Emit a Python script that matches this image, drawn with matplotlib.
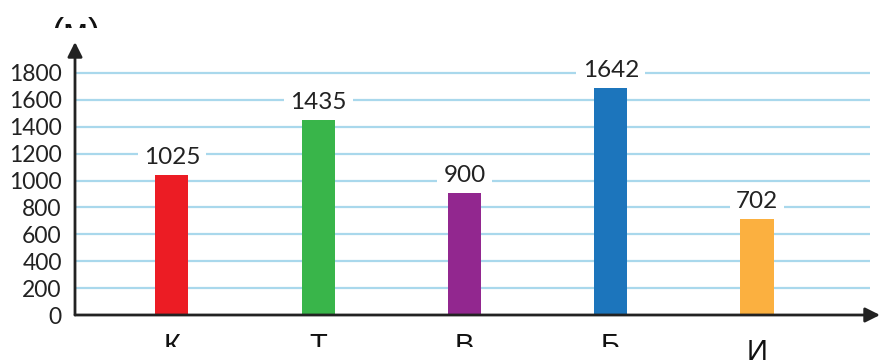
import matplotlib
matplotlib.use("Agg")
import matplotlib.pyplot as plt
from matplotlib.transforms import Bbox, IdentityTransform

categories = ["К", "Т", "В", "Б", "И"]
value_labels = [1025, 1435, 900, 1642, 702]
# bar heights as drawn in the picture (slightly taller than the printed values)
bar_heights = [1042, 1451, 910, 1691, 714]
colors = ["#ec1c24", "#39b54a", "#92278f", "#1c75bc", "#fbb040"]
y_ticks = [0, 200, 400, 600, 800, 1000, 1200, 1400, 1600, 1800]

W, H = 880, 360
fig = plt.figure(figsize=(W / 100, H / 100), dpi=100)
fig.patch.set_facecolor("white")

# axes box in pixels: y-axis at x=75, baseline at y=315 (from top), top arrow at y=42
ax = fig.add_axes([75 / W, 45 / H, (880 - 75) / W, (315 - 42) / H])
xmin, xmax = -0.663, 4.841
ymax = 2030
ax.set_xlim(xmin, xmax)
ax.set_ylim(0, ymax)
for s in ax.spines.values():
    s.set_visible(False)
ax.set_xticks([])
ax.set_yticks(y_ticks)
ax.set_yticklabels([str(v) for v in y_ticks], fontsize=16.5, color="#222222", family="Lato")
ax.tick_params(axis="y", length=0, pad=9.5)

# grid lines
ax.hlines(y_ticks[1:], xmin, 4.77, color="#a9d8ec", lw=1.6, zorder=0)

x = list(range(len(categories)))
ax.bar(x, bar_heights, width=0.226, color=colors, zorder=2)

for xi, h, v in zip(x, bar_heights, value_labels):
    ax.annotate(str(v), xy=(xi, h), xytext=(0, 12.5), textcoords="offset points",
                ha="center", va="center", fontsize=17.5, color="#222222", family="Lato",
                bbox=dict(boxstyle="square,pad=0.25", fc="white", ec="none"), zorder=3)

# axes with arrows
arrow = dict(arrowstyle="-|>", lw=2, color="#222222", mutation_scale=22, shrinkA=0, shrinkB=0)
ax.annotate("", xy=(xmin, ymax), xytext=(xmin, 0), arrowprops=arrow, annotation_clip=False, zorder=4)
ax.annotate("", xy=(xmax, 0), xytext=(xmin, 0), arrowprops=arrow, annotation_clip=False, zorder=4)

# category labels below axis, partly cut off as in the picture
px = IdentityTransform()
centers = [172, 318, 464, 610, 757]
for c, cx in zip(categories, centers):
    if c == "И":
        base, clip_y = 0, 0
    else:
        base, clip_y = 6, 13
    t = fig.text(cx, base, c, transform=px, ha="center", va="baseline",
                 fontsize=21, family="Liberation Sans", color="#111111")
    t.set_clip_box(Bbox.from_extents(0, clip_y, W, H))
    t.set_clip_on(True)

t = fig.text(76, 316, "(м)", transform=px, ha="center", va="baseline",
             fontsize=26, family="Liberation Sans", color="#111111")
t.set_clip_box(Bbox.from_extents(0, 332, W, H))
t.set_clip_on(True)

fig.savefig("out.png", dpi=100)
